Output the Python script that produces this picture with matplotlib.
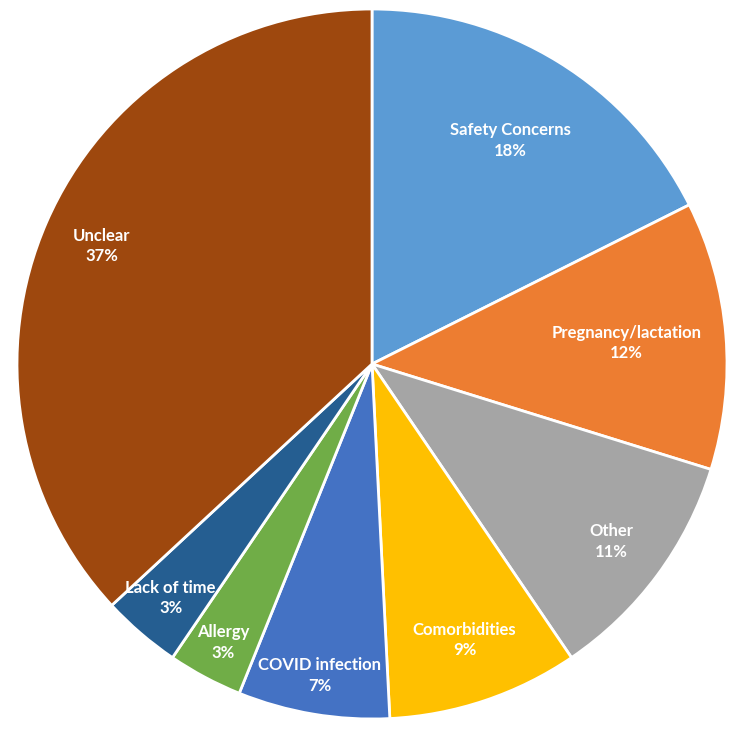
import matplotlib
matplotlib.use('Agg')
import matplotlib.pyplot as plt
import numpy as np

# reasons for not getting vaccinated (clockwise from 12 o'clock)
categories = ['Safety Concerns', 'Pregnancy/lactation', 'Other', 'Comorbidities',
              'COVID infection', 'Allergy', 'Lack of time', 'Unclear']
values = [17.6, 12.2, 10.7, 8.7, 6.9, 3.4, 3.6, 36.9]
shown_pct = ['18%', '12%', '11%', '9%', '7%', '3%', '3%', '37%']

colors = ['#5B9BD5', '#ED7D31', '#A5A5A5', '#FFC000',
          '#4472C4', '#70AD47', '#255E91', '#9E480E']
# radial position of each label, as a fraction of the radius
label_r = [0.74, 0.72, 0.84, 0.82, 0.89, 0.89, 0.87, 0.83]

fig = plt.figure(figsize=(7.5, 7.35), dpi=100)
ax = fig.add_axes((17 / 750, 16 / 735, 710 / 750, 710 / 735))

wedges, _ = ax.pie(values, colors=colors, startangle=90, counterclock=False,
                   radius=1.0, wedgeprops=dict(edgecolor='white', linewidth=2))

for w, name, pct, r in zip(wedges, categories, shown_pct, label_r):
    mid = np.deg2rad((w.theta1 + w.theta2) / 2)
    x, y = r * np.cos(mid), r * np.sin(mid)
    ax.text(x, y, f'{name}\n{pct}', ha='center', va='center', color='white',
            fontsize=12, fontweight='bold', family=['Lato', 'DejaVu Sans'],
            linespacing=1.35)

ax.set_aspect('auto')
ax.set_xlim(-1, 1)
ax.set_ylim(-1, 1)
ax.axis('off')

fig.savefig('out.png', dpi=100, facecolor='white')
